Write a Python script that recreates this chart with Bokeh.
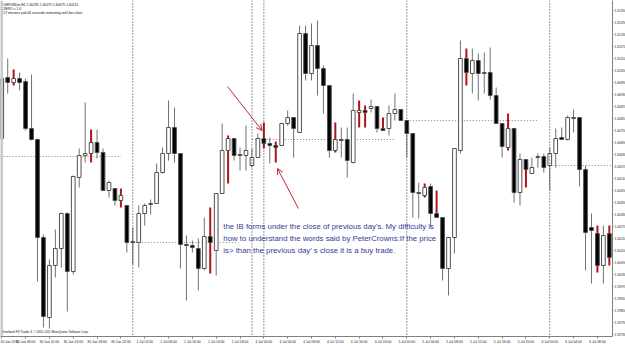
from bokeh.plotting import figure
from bokeh.models import (ColumnDataSource, FixedTicker, Span, Arrow, OpenHead, Label,
                          Range1d, LinearAxis, PrintfTickFormatter)
from bokeh.embed import file_html
from bokeh.resources import INLINE

# ---------------- data (GBPUSD H1) ----------------
opens = [1.60710, 1.61015, 1.60990, 1.61010, 1.60995, 1.60760, 1.60705, 1.60215, 1.59815, 1.60075,
         1.60160, 1.60335, 1.60045, 1.60515, 1.60625, 1.60635, 1.60690, 1.60640, 1.60450, 1.60460,
         1.60400, 1.60375, 1.60190, 1.60190, 1.60335, 1.60380, 1.60385, 1.60540, 1.60635, 1.60765,
         1.60635, 1.60180, 1.60175, 1.60160, 1.60060, 1.60220, 1.60150, 1.60435, 1.60650, 1.60710,
         1.60625, 1.60625, 1.60575, 1.60615, 1.60710, 1.60685, 1.60675, 1.60675, 1.60785, 1.60815,
         1.60740, 1.61235, 1.61035, 1.61175, 1.61060, 1.60975, 1.60650, 1.60705, 1.60705, 1.60590,
         1.60840, 1.60850, 1.60860, 1.60870, 1.60760, 1.60760, 1.60835, 1.60855, 1.60800, 1.60735,
         1.60440, 1.60425, 1.60470, 1.60335, 1.60315, 1.60060, 1.60215, 1.60650, 1.61110, 1.61035,
         1.61100, 1.61035, 1.61040, 1.60925, 1.60785, 1.60665, 1.60760, 1.60440, 1.60605, 1.60535,
         1.60615, 1.60620, 1.60575, 1.60635, 1.60715, 1.60705, 1.60810, 1.60815, 1.60555, 1.60265,
         1.60235, 1.60075, 1.60235]
highs = [1.61085, 1.61110, 1.61055, 1.61040, 1.61010, 1.61030, 1.60710, 1.60230, 1.60105, 1.60255,
         1.60340, 1.60340, 1.60525, 1.60660, 1.60890, 1.60755, 1.60755, 1.60660, 1.60500, 1.60460,
         1.60460, 1.60375, 1.60265, 1.60375, 1.60385, 1.60405, 1.60585, 1.60665, 1.60900, 1.60865,
         1.60635, 1.60225, 1.60200, 1.60210, 1.60315, 1.60365, 1.60435, 1.60785, 1.60725, 1.60710,
         1.60665, 1.60775, 1.60660, 1.60735, 1.60790, 1.60715, 1.60695, 1.60785, 1.60850, 1.60815,
         1.61275, 1.61275, 1.61285, 1.61300, 1.61075, 1.60975, 1.60790, 1.60765, 1.60765, 1.60935,
         1.60900, 1.60875, 1.60905, 1.60870, 1.60815, 1.60875, 1.60935, 1.60855, 1.60800, 1.60735,
         1.60490, 1.60485, 1.60485, 1.60450, 1.60315, 1.60215, 1.60660, 1.61200, 1.61160, 1.61160,
         1.61135, 1.61140, 1.61165, 1.60965, 1.60785, 1.60835, 1.60760, 1.60635, 1.60605, 1.60615,
         1.60635, 1.60635, 1.60665, 1.60760, 1.60765, 1.60825, 1.60855, 1.60815, 1.60575, 1.60335,
         1.60275, 1.60275, 1.60275]
lows = [1.60665, 1.60935, 1.60975, 1.60950, 1.60750, 1.60700, 1.59995, 1.59765, 1.59760, 1.60015,
        1.60065, 1.59845, 1.60030, 1.60465, 1.60590, 1.60590, 1.60610, 1.60450, 1.60415, 1.60375,
        1.60365, 1.60140, 1.60080, 1.60065, 1.60275, 1.60330, 1.60385, 1.60535, 1.60600, 1.60590,
        1.60060, 1.59900, 1.60140, 1.59950, 1.60050, 1.60035, 1.60025, 1.60435, 1.60485, 1.60600,
        1.60550, 1.60550, 1.60565, 1.60615, 1.60660, 1.60585, 1.60590, 1.60675, 1.60775, 1.60615,
        1.60740, 1.61000, 1.61000, 1.60925, 1.60835, 1.60615, 1.60640, 1.60615, 1.60515, 1.60585,
        1.60765, 1.60765, 1.60840, 1.60740, 1.60750, 1.60725, 1.60800, 1.60800, 1.60615, 1.60315,
        1.60310, 1.60415, 1.60265, 1.60315, 1.60000, 1.59925, 1.60135, 1.60635, 1.60975, 1.60935,
        1.60900, 1.60935, 1.60905, 1.60785, 1.60615, 1.60650, 1.60390, 1.60375, 1.60465, 1.60535,
        1.60565, 1.60540, 1.60450, 1.60565, 1.60705, 1.60700, 1.60740, 1.60470, 1.60050, 1.59985,
        1.60040, 1.59985, 1.60075]
closes = [1.61010, 1.60990, 1.61010, 1.60990, 1.60760, 1.60705, 1.60215, 1.59820, 1.60075, 1.60160,
          1.60335, 1.60045, 1.60520, 1.60625, 1.60635, 1.60690, 1.60640, 1.60450, 1.60490, 1.60400,
          1.60425, 1.60190, 1.60195, 1.60335, 1.60375, 1.60385, 1.60540, 1.60635, 1.60765, 1.60635,
          1.60180, 1.60175, 1.60165, 1.60060, 1.60220, 1.60190, 1.60435, 1.60650, 1.60710, 1.60625,
          1.60630, 1.60650, 1.60615, 1.60710, 1.60685, 1.60675, 1.60665, 1.60785, 1.60815, 1.60760,
          1.61235, 1.61035, 1.61175, 1.61060, 1.60975, 1.60650, 1.60705, 1.60700, 1.60600, 1.60850,
          1.60850, 1.60840, 1.60870, 1.60760, 1.60750, 1.60835, 1.60855, 1.60800, 1.60735, 1.60440,
          1.60435, 1.60465, 1.60335, 1.60315, 1.60060, 1.60215, 1.60660, 1.61110, 1.61040, 1.61100,
          1.61035, 1.61040, 1.60925, 1.60785, 1.60670, 1.60760, 1.60440, 1.60605, 1.60555, 1.60565,
          1.60620, 1.60565, 1.60635, 1.60710, 1.60705, 1.60815, 1.60815, 1.60555, 1.60240, 1.60250,
          1.60075, 1.60225, 1.60115]
# bars flagged by the inside-bar indicator (red wicks)
inside_bars = [2, 15, 20, 35, 38, 44, 46, 56, 60, 61, 64, 71, 73, 78, 85, 88, 100, 102]
# period separators (bar index)
day_breaks = [22, 42, 44, 68, 92]
# previous-day close levels
prev_close_level = [1.60620, 1.60190, 1.60705, 1.60800, 1.60575]
prev_close_from = [-0.2, 22, 42, 68, 92]
prev_close_to = [20, 39.7, 66, 90, 103]
# axis ticks
time_tick_bars = [0, 4, 8, 12, 16, 20, 24, 28, 32, 36, 40, 44, 48, 52, 56, 60, 64, 68, 72, 76,
                  80, 84, 88, 92, 96, 100]
time_tick_labels = ["30 Jun 2011", "30 Jun 06:00", "30 Jun 10:00", "30 Jun 14:00", "30 Jun 18:00",
                    "30 Jun 22:00", "1 Jul 02:00", "1 Jul 06:00", "1 Jul 10:00", "1 Jul 14:00",
                    "1 Jul 18:00", "4 Jul 00:00", "4 Jul 04:00", "4 Jul 08:00", "4 Jul 12:00",
                    "4 Jul 16:00", "4 Jul 20:00", "5 Jul 00:00", "5 Jul 04:00", "5 Jul 08:00",
                    "5 Jul 12:00", "5 Jul 16:00", "5 Jul 20:00", "6 Jul 00:00", "6 Jul 04:00",
                    "6 Jul 08:00"]
price_ticks = [1.61350, 1.61290, 1.61230, 1.61170, 1.61110, 1.61050, 1.60990, 1.60930, 1.60870,
               1.60810, 1.60750, 1.60690, 1.60630, 1.60570, 1.60510, 1.60450, 1.60390, 1.60330,
               1.60270, 1.60210, 1.60150, 1.60090, 1.60030, 1.59970, 1.59910, 1.59850, 1.59790,
               1.59730]
header_lines = ["GBPUSDm,H1  1.60235 1.60275 1.60075 1.60115",
                "ZERO = 1.0",
                "27 minutes and 46 seconds remaining until bar close"]
note_lines = ["the IB forms under the close of previous day's.  My difficulty is",
              "how to understand the words said by PeterCrowns:If the price",
              " is> than the previous day\u2019 s close it is a buy trade."]
copyright_text = "Interbank FX Trader 4, \u00a9 2001-2011 MetaQuotes Software Corp."

# ---------------- derived columns ----------------
n = len(opens)
bars = list(range(n))
tops = [max(o, c) for o, c in zip(opens, closes)]
bottoms = [min(o, c) for o, c in zip(opens, closes)]
fills = ["#ffffff" if c >= o else "#000000" for o, c in zip(opens, closes)]
normal = [i for i in bars if i not in inside_bars]

src = ColumnDataSource(dict(x=bars, h=highs, l=lows, top=tops, bottom=bottoms, fill=fills))
src_n = ColumnDataSource(dict(x=[bars[i] for i in normal], h=[highs[i] for i in normal],
                              l=[lows[i] for i in normal]))
src_ib = ColumnDataSource(dict(x=inside_bars, h=[highs[i] for i in inside_bars],
                               l=[lows[i] for i in inside_bars]))

p = figure(frame_width=612, frame_height=336,
           x_range=Range1d(-0.21, 102.53), y_range=Range1d(1.59720, 1.61400),
           output_backend="svg", toolbar_location=None,
           x_axis_location=None, y_axis_location=None, min_border=0)
p.outline_line_color = None
p.background_fill_color = "#ffffff"
p.border_fill_color = "#ffffff"
for g in p.grid:
    g.visible = False

# period separators
for b in day_breaks:
    p.add_layout(Span(location=b, dimension="height", line_color="#333333",
                      line_dash="1 2", line_width=1))
# previous-day close levels
p.segment(x0=prev_close_from, y0=prev_close_level, x1=prev_close_to, y1=prev_close_level,
          line_color="#a07a72", line_dash="1 2", line_width=1)

# candles
p.segment(x0="x", y0="h", x1="x", y1="l", source=src_n, line_color="#707070", line_width=1)
p.segment(x0="x", y0="h", x1="x", y1="l", source=src_ib, line_color="#b01418", line_width=2)
p.vbar(x="x", width=0.62, top="top", bottom="bottom", source=src,
       fill_color="fill", line_color="#505050", line_width=1)

# left window border
p.add_layout(Span(location=-0.05, dimension="height", line_color="#c8c8c8", line_width=3))

# axes
xa = LinearAxis(ticker=FixedTicker(ticks=time_tick_bars),
                major_label_overrides={b: t for b, t in zip(time_tick_bars, time_tick_labels)})
xa.major_label_text_font_size = "3.4px"
xa.major_label_text_font = "Liberation Sans"
xa.major_label_text_color = "#222222"
xa.major_label_text_align = "left"
xa.major_label_standoff = 1
xa.major_tick_out = 2
xa.major_tick_in = 0
xa.minor_tick_out = 0
xa.axis_line_color = "#808080"
xa.major_tick_line_color = "#808080"
p.add_layout(xa, "below")

ya = LinearAxis(ticker=FixedTicker(ticks=price_ticks),
                formatter=PrintfTickFormatter(format="%.5f"))
ya.major_label_text_font_size = "3.2px"
ya.major_label_text_font = "Liberation Sans"
ya.major_label_text_color = "#222222"
ya.major_label_standoff = 1
ya.major_tick_out = 1
ya.major_tick_in = 0
ya.minor_tick_out = 0
ya.axis_line_color = "#808080"
ya.major_tick_line_color = "#808080"
p.add_layout(ya, "right")

# header text (top-left)
for t, yv in zip(header_lines, [1.61380, 1.61358, 1.61336]):
    p.add_layout(Label(x=0.25, y=yv, text=t, text_font="Liberation Sans", text_font_size="3.4px",
                       text_color="#111111", text_baseline="middle"))
p.add_layout(Label(x=0.15, y=1.59745, text=copyright_text, text_font="Liberation Sans",
                   text_font_size="3.0px", text_color="#111111", text_baseline="middle"))

# annotation text
for t, yv in zip(note_lines, [1.60270, 1.60210, 1.60150]):
    p.add_layout(Label(x=37.2, y=yv, text=t, text_font="Liberation Sans", text_font_size="7.8px",
                       text_color="#343c92", text_baseline="middle"))

# red arrows
arrow_from_x = [37.9, 49.8]
arrow_from_y = [1.60970, 1.60360]
arrow_to_x = [43.7, 46.3]
arrow_to_y = [1.60750, 1.60560]
for x0, y0, x1, y1 in zip(arrow_from_x, arrow_from_y, arrow_to_x, arrow_to_y):
    p.add_layout(Arrow(x_start=x0, y_start=y0, x_end=x1, y_end=y1, line_color="#c0282c",
                       line_width=1, end=OpenHead(size=6, line_color="#c0282c", line_width=1)))

open("out.html", "w").write(file_html(p, INLINE))
